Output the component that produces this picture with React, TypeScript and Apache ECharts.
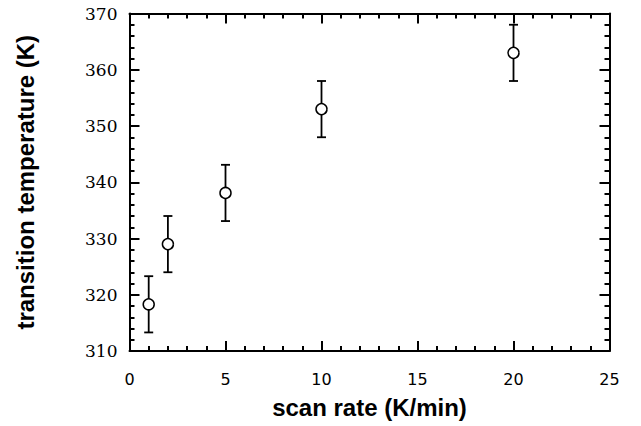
import React, { useEffect, useRef } from "react";
import * as echarts from "echarts";

const scanRates = [1, 2, 5, 10, 20];
const temps = [318.3, 329, 338.1, 353, 363];
const errors = [5, 5, 5, 5, 5];

const xTitle = "scan rate (K/min)";
const yTitle = "transition temperature (K)";

export default function App() {
  const ref = useRef<HTMLDivElement>(null);
  useEffect(() => {
    if (!ref.current) return;
    const chart = echarts.init(ref.current, null, { renderer: "svg" });
    const errData = scanRates.map((x, i) => [x, temps[i] - errors[i], temps[i] + errors[i]]);
    const pts = scanRates.map((x, i) => [x, temps[i]]);
    const axisLine = { show: true, onZero: false, lineStyle: { color: "#000", width: 2 } };
    const tick = { show: true, inside: true, length: 10, lineStyle: { color: "#000", width: 2 } };
    const minor = { show: true, splitNumber: 5, length: 5, lineStyle: { color: "#000", width: 2 } };
    chart.setOption({
      animation: false,
      backgroundColor: "#fff",
      grid: { left: 129.5, right: 31.5, top: 13.5, bottom: 75 },
      xAxis: [
        {
          type: "value",
          min: 0,
          max: 25,
          interval: 5,
          position: "bottom",
          axisLine,
          axisTick: tick,
          minorTick: minor,
          splitLine: { show: false },
          axisLabel: { margin: 20, color: "#000", fontFamily: "DejaVu Sans", fontSize: 16 },
          name: xTitle,
          nameLocation: "middle",
          nameGap: 44,
          nameTextStyle: { fontFamily: "Liberation Sans", fontWeight: "bold", fontSize: 24, color: "#000" },
        },
        {
          type: "value",
          min: 0,
          max: 25,
          interval: 5,
          position: "top",
          axisLine,
          axisTick: tick,
          minorTick: minor,
          splitLine: { show: false },
          axisLabel: { show: false },
        },
      ],
      yAxis: [
        {
          type: "value",
          min: 310,
          max: 370,
          interval: 10,
          position: "left",
          axisLine,
          axisTick: tick,
          minorTick: minor,
          splitLine: { show: false },
          axisLabel: { margin: 12, color: "#000", fontFamily: "DejaVu Serif", fontSize: 17 },
          name: yTitle,
          nameLocation: "middle",
          nameGap: 92,
          nameRotate: 90,
          nameTextStyle: { fontFamily: "Liberation Sans", fontWeight: "bold", fontSize: 24, color: "#000" },
        },
        {
          type: "value",
          min: 310,
          max: 370,
          interval: 10,
          position: "right",
          axisLine,
          axisTick: tick,
          minorTick: minor,
          splitLine: { show: false },
          axisLabel: { show: false },
        },
      ],
      series: [
        {
          type: "custom",
          xAxisIndex: 0,
          yAxisIndex: 0,
          data: errData,
          renderItem: (params: any, api: any) => {
            const x = api.value(0);
            const lo = api.coord([x, api.value(1)]);
            const hi = api.coord([x, api.value(2)]);
            const hw = 4.5;
            const style = { stroke: "#000", lineWidth: 1.8, fill: "none" };
            return {
              type: "group",
              children: [
                { type: "line", shape: { x1: lo[0], y1: lo[1], x2: hi[0], y2: hi[1] }, style },
                { type: "line", shape: { x1: lo[0] - hw, y1: lo[1], x2: lo[0] + hw, y2: lo[1] }, style },
                { type: "line", shape: { x1: hi[0] - hw, y1: hi[1], x2: hi[0] + hw, y2: hi[1] }, style },
              ],
            };
          },
          z: 2,
        },
        {
          type: "scatter",
          xAxisIndex: 0,
          yAxisIndex: 0,
          data: pts,
          symbol: "circle",
          symbolSize: 11,
          itemStyle: { color: "#fff", borderColor: "#000", borderWidth: 1.5, opacity: 1 },
          z: 3,
        },
      ],
    });
    return () => chart.dispose();
  }, []);
  return (
    <div
      ref={ref}
      style={{ position: "fixed", left: 0, top: 0, width: 641, height: 426, background: "#fff" }}
    />
  );
}
